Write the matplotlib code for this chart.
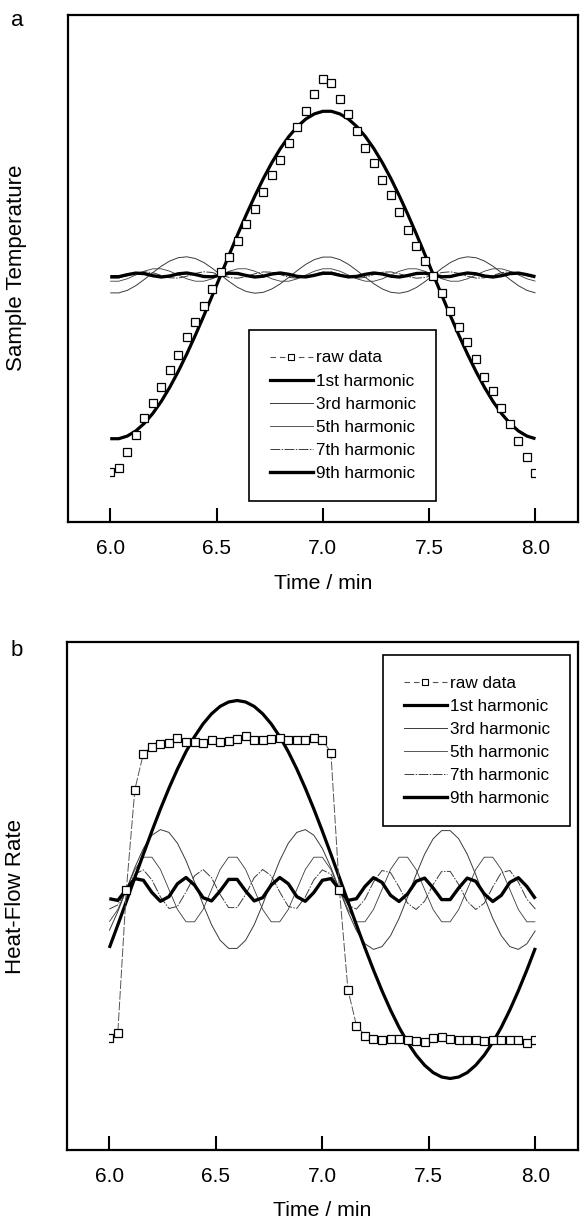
import matplotlib
matplotlib.use("Agg")
import matplotlib.pyplot as plt
from matplotlib.lines import Line2D
from matplotlib.patches import Rectangle

plt.rcParams['font.family'] = ['Liberation Sans', 'DejaVu Sans']

# ---------------- data ----------------
time_min = [6.00, 6.04, 6.08, 6.12, 6.16, 6.20, 6.24, 6.28, 6.32, 6.36,
            6.40, 6.44, 6.48, 6.52, 6.56, 6.60, 6.64, 6.68, 6.72, 6.76,
            6.80, 6.84, 6.88, 6.92, 6.96, 7.00, 7.04, 7.08, 7.12, 7.16,
            7.20, 7.24, 7.28, 7.32, 7.36, 7.40, 7.44, 7.48, 7.52, 7.56,
            7.60, 7.64, 7.68, 7.72, 7.76, 7.80, 7.84, 7.88, 7.92, 7.96, 8.00]

# (a) sample temperature, arbitrary units (0 = mean)
temp_raw = [-197, -193, -177, -160, -143, -128, -112, -95, -80, -62,
            -47, -31, -14, 3, 18, 34, 51, 66, 83, 100,
            115, 132, 148, 164, 181, 196, 192, 176, 161, 144,
            127, 112, 95, 80, 63, 45, 29, 14, -1, -18,
            -36, -52, -67, -84, -102, -116, -133, -149, -166, -182, -198]
temp_h1 = [-163.7, -163.7, -161.1, -156.0, -148.4, -138.5, -126.4, -112.3, -96.4, -79.0,
           -60.4, -40.8, -20.5, 0.0, 20.5, 40.8, 60.4, 79.0, 96.4, 112.3,
           126.4, 138.5, 148.4, 156.0, 161.1, 163.7, 163.7, 161.1, 156.0, 148.4,
           138.5, 126.4, 112.3, 96.4, 79.0, 60.4, 40.8, 20.5, 0.0, -20.5,
           -40.8, -60.4, -79.0, -96.4, -112.3, -126.4, -138.5, -148.4, -156.0, -161.1, -163.7]
temp_h3 = [-17.9, -17.9, -15.4, -10.7, -4.5, 2.3, 8.8, 14.0, 17.3, 18.2,
           16.5, 12.5, 6.7, 0.0, -6.7, -12.5, -16.5, -18.2, -17.3, -14.0,
           -8.8, -2.3, 4.5, 10.7, 15.4, 17.9, 17.9, 15.4, 10.7, 4.5,
           -2.3, -8.8, -14.0, -17.3, -18.2, -16.5, -12.5, -6.7, 0.0, 6.7,
           12.5, 16.5, 18.2, 17.3, 14.0, 8.8, 2.3, -4.5, -10.7, -15.4, -17.9]
temp_h5 = [-6.2, -6.2, -3.8, 0.0, 3.8, 6.2, 6.2, 3.8, 0.0, -3.8,
           -6.2, -6.2, -3.8, 0.0, 3.8, 6.2, 6.2, 3.8, 0.0, -3.8,
           -6.2, -6.2, -3.8, 0.0, 3.8, 6.2, 6.2, 3.8, 0.0, -3.8,
           -6.2, -6.2, -3.8, 0.0, 3.8, 6.2, 6.2, 3.8, 0.0, -3.8,
           -6.2, -6.2, -3.8, 0.0, 3.8, 6.2, 6.2, 3.8, 0.0, -3.8, -6.2]
temp_h7 = [-3.0, -3.0, -0.8, 1.9, 3.3, 2.3, -0.4, -2.8, -3.1, -1.2,
           1.6, 3.2, 2.5, 0.0, -2.5, -3.2, -1.6, 1.2, 3.1, 2.8,
           0.4, -2.3, -3.3, -1.9, 0.8, 3.0, 3.0, 0.8, -1.9, -3.3,
           -2.3, 0.4, 2.8, 3.1, 1.2, -1.6, -3.2, -2.5, 0.0, 2.5,
           3.2, 1.6, -1.2, -3.1, -2.8, -0.4, 2.3, 3.3, 1.9, -0.8, -3.0]
temp_h9 = [-1.7, -1.7, 0.3, 1.9, 1.4, -0.7, -2.0, -1.0, 1.2, 2.0,
           0.5, -1.5, -1.8, 0.0, 1.8, 1.5, -0.5, -2.0, -1.2, 1.0,
           2.0, 0.7, -1.4, -1.9, -0.3, 1.7, 1.7, -0.3, -1.9, -1.4,
           0.7, 2.0, 1.0, -1.2, -2.0, -0.5, 1.5, 1.8, 0.0, -1.8,
           -1.5, 0.5, 2.0, 1.2, -1.0, -2.0, -0.7, 1.4, 1.9, 0.3, -1.7]

# (b) heat-flow rate, arbitrary units (0 = mean)
hf_raw = [-148, -143, 0, 100, 136, 143, 146, 147, 152, 148,
          148, 147, 150, 148, 149, 151, 154, 150, 150, 151,
          152, 150, 150, 150, 152, 150, 137, 0, -100, -136,
          -146, -149, -150, -149, -149, -150, -151, -152, -148, -147,
          -149, -150, -150, -150, -151, -150, -150, -150, -150, -153, -150]
hf_h1 = [-58.4, -35.4, -11.9, 11.9, 35.4, 58.4, 80.5, 101.3, 120.5, 137.8,
         152.9, 165.6, 175.7, 183.1, 187.5, 189.0, 187.5, 183.1, 175.7, 165.6,
         152.9, 137.8, 120.5, 101.3, 80.5, 58.4, 35.4, 11.9, -11.9, -35.4,
         -58.4, -80.5, -101.3, -120.5, -137.8, -152.9, -165.6, -175.7, -183.1, -187.5,
         -189.0, -187.5, -183.1, -175.7, -165.6, -152.9, -137.8, -120.5, -101.3, -80.5, -58.4]
hf_h3 = [-41.1, -22.1, 0.0, 22.1, 41.1, 54.3, 59.9, 57.1, 46.2, 28.9,
         7.5, -14.9, -35.3, -50.7, -58.9, -58.9, -50.7, -35.3, -14.9, 7.5,
         28.9, 46.2, 57.1, 59.9, 54.3, 41.1, 22.1, 0.0, -22.1, -41.1,
         -54.3, -59.9, -57.1, -46.2, -28.9, -7.5, 14.9, 35.3, 50.7, 58.9,
         58.9, 50.7, 35.3, 14.9, -7.5, -28.9, -46.2, -57.1, -59.9, -54.3, -41.1]
hf_h5 = [-32.3, -20.0, 0.0, 20.0, 32.3, 32.3, 20.0, 0.0, -20.0, -32.3,
         -32.3, -20.0, 0.0, 20.0, 32.3, 32.3, 20.0, 0.0, -20.0, -32.3,
         -32.3, -20.0, 0.0, 20.0, 32.3, 32.3, 20.0, 0.0, -20.0, -32.3,
         -32.3, -20.0, 0.0, 20.0, 32.3, 32.3, 20.0, 0.0, -20.0, -32.3,
         -32.3, -20.0, 0.0, 20.0, 32.3, 32.3, 20.0, 0.0, -20.0, -32.3, -32.3]
hf_h7 = [-19.6, -15.4, 0.0, 15.4, 19.6, 9.6, -7.4, -19.0, -16.9, -2.5,
         13.7, 20.0, 11.8, -5.0, -18.1, -18.1, -5.0, 11.8, 20.0, 13.7,
         -2.5, -16.9, -19.0, -7.4, 9.6, 19.6, 15.4, 0.0, -15.4, -19.6,
         -9.6, 7.4, 19.0, 16.9, 2.5, -13.7, -20.0, -11.8, 5.0, 18.1,
         18.1, 5.0, -11.8, -20.0, -13.7, 2.5, 16.9, 19.0, 7.4, -9.6, -19.6]
hf_h9 = [-9.2, -10.9, 0.0, 10.9, 9.2, -3.0, -11.8, -7.1, 5.8, 12.0,
         4.4, -8.2, -11.4, -1.5, 10.1, 10.1, -1.5, -11.4, -8.2, 4.4,
         12.0, 5.8, -7.1, -11.8, -3.0, 9.2, 10.9, 0.0, -10.9, -9.2,
         3.0, 11.8, 7.1, -5.8, -12.0, -4.4, 8.2, 11.4, 1.5, -10.1,
         -10.1, 1.5, 11.4, 8.2, -4.4, -12.0, -5.8, 7.1, 11.8, 3.0, -9.2]

series_labels = ["raw data", "1st harmonic", "3rd harmonic",
                 "5th harmonic", "7th harmonic", "9th harmonic"]
x_ticks = [6.0, 6.5, 7.0, 7.5, 8.0]
x_tick_labels = ["6.0", "6.5", "7.0", "7.5", "8.0"]

# ---------------- styles ----------------
W, H = 580, 1220
THIN = '#3a3a3a'
styles = {
    'h3': dict(color=THIN, lw=0.7, ls='-'),
    'h5': dict(color=THIN, lw=0.6, ls='-'),
    'h7': dict(color=THIN, lw=0.7, ls=(0, (10, 1.5, 1.5, 1.5))),
    'h1': dict(color='black', lw=2.3, ls='-'),
    'h9': dict(color='black', lw=2.4, ls='-'),
}

fig = plt.figure(figsize=(W / 100, H / 100), dpi=100)


def make_axes(l, t, r, b):
    return fig.add_axes([l / W, 1 - b / H, (r - l) / W, (b - t) / H])


def draw_panel(ax, raw, h1, h3, h5, h7, h9, ylim, raw_line, leg_xy, ylabel, xlab_y):
    for key, ys in (('h3', h3), ('h5', h5), ('h7', h7), ('h9', h9), ('h1', h1)):
        ax.plot(time_min, ys, solid_capstyle='butt', **styles[key])
    raw_ls = (0, (9, 2)) if raw_line else 'none'
    ln, = ax.plot(time_min, raw, ls=raw_ls, color='#555555', lw=0.7,
                  marker='s', ms=5.2, mfc='white', mec='black', mew=0.9, zorder=5)
    clip = Rectangle((6.0, -1000), 2.0, 2000, transform=ax.transData)
    ln.set_clip_path(clip)

    ax.set_xlim(5.8, 8.2)
    ax.set_ylim(*ylim)
    ax.set_xticks(x_ticks)
    ax.set_xticklabels(x_tick_labels)
    ax.set_yticks([])
    ax.tick_params(axis='x', direction='in', length=10, width=1.5,
                   labelsize=15, pad=12.5)
    for sp in ax.spines.values():
        sp.set_linewidth(1.6)
    ax.set_xlabel("Time / min", fontsize=15.3, va='center')
    ax.xaxis.set_label_coords(0.5, xlab_y)
    ax.set_ylabel(ylabel, fontsize=16, va='center')
    ax.yaxis.set_label_coords(-0.100, 0.5)

    handles = [
        Line2D([], [], ls=(0, (5, 3.5)), color='#555555', lw=0.8, marker='s', ms=5,
               mfc='white', mec='black', mew=0.8),
        Line2D([], [], **styles['h1']),
        Line2D([], [], **styles['h3']),
        Line2D([], [], **styles['h5']),
        Line2D([], [], **styles['h7']),
        Line2D([], [], **styles['h9']),
    ]
    leg = ax.legend(handles, series_labels, loc='upper left', bbox_to_anchor=leg_xy,
                    borderaxespad=0, fontsize=12.3, frameon=True, fancybox=False,
                    handlelength=2.55, handletextpad=0.15, labelspacing=0.47,
                    borderpad=1.2, edgecolor='black', framealpha=1)
    leg.get_frame().set_linewidth(1.2)


# panel a
axA = make_axes(67.7, 14.5, 578, 522)
draw_panel(axA, temp_raw, temp_h1, temp_h3, temp_h5, temp_h7, temp_h9,
           (-247, 260.5), False, ((249 - 67.7) / 510.3, (522 - 330) / 507.5),
           "Sample Temperature", -0.122)

# panel b
axB = make_axes(66.7, 642, 578, 1150)
draw_panel(axB, hf_raw, hf_h1, hf_h3, hf_h5, hf_h7, hf_h9,
           (-260.5, 247.5), True, ((383 - 66.7) / 511.3, (1150 - 655) / 508),
           "Heat-Flow Rate", -0.120)

fig.text(17 / W, 1 - 21 / H, "a", fontsize=16, ha='center', va='center')
fig.text(17 / W, 1 - 651 / H, "b", fontsize=16, ha='center', va='center')

fig.savefig("out.png", dpi=100)
